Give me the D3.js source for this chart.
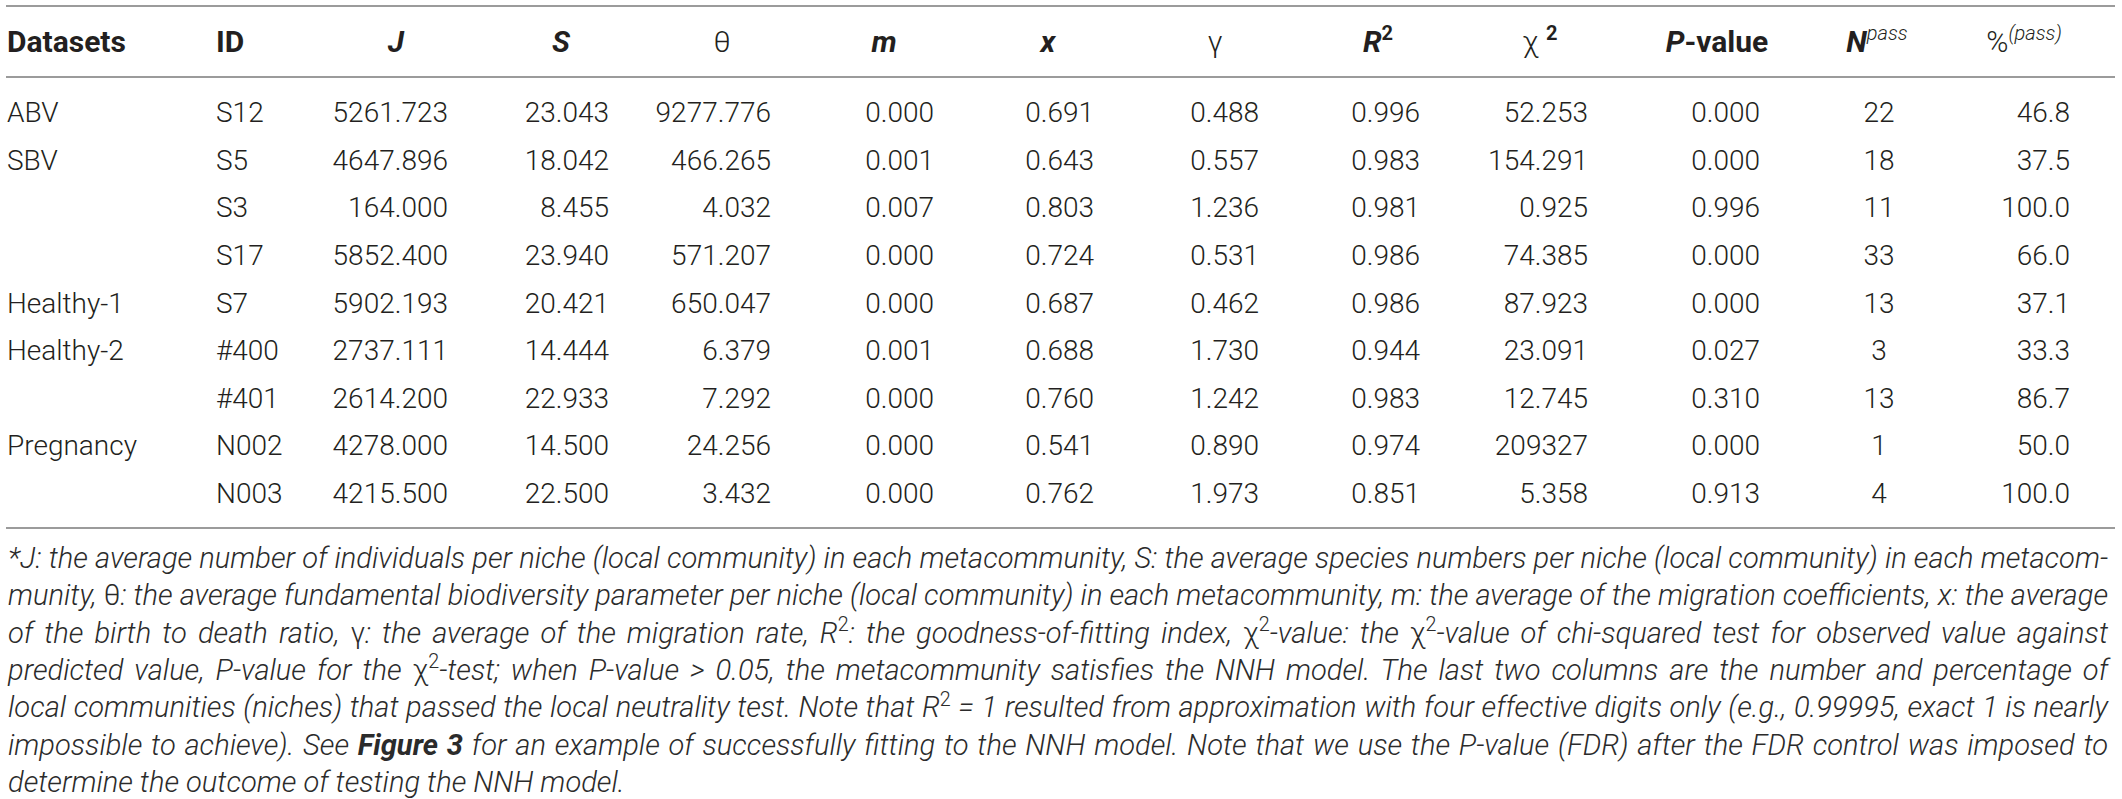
<!DOCTYPE html>
<html>
<head>
<meta charset="utf-8">
<script src="https://cdn.jsdelivr.net/npm/d3@7"></script>
<style>
  html, body { margin: 0; padding: 0; background: #fff; }
  svg text { font-family: Roboto, "Liberation Sans", Arial, sans-serif; fill: #231f20; }
</style>
</head>
<body>
<div id="table"></div>
<script>
// DATA
const datasets = ['ABV', 'SBV', '', '', 'Healthy-1', 'Healthy-2', '', 'Pregnancy', ''];
const ids = ['S12', 'S5', 'S3', 'S17', 'S7', '#400', '#401', 'N002', 'N003'];
const jValues = ['5261.723', '4647.896', '164.000', '5852.400', '5902.193', '2737.111', '2614.200', '4278.000', '4215.500'];
const sValues = ['23.043', '18.042', '8.455', '23.940', '20.421', '14.444', '22.933', '14.500', '22.500'];
const thetaValues = ['9277.776', '466.265', '4.032', '571.207', '650.047', '6.379', '7.292', '24.256', '3.432'];
const mValues = ['0.000', '0.001', '0.007', '0.000', '0.000', '0.001', '0.000', '0.000', '0.000'];
const xValues = ['0.691', '0.643', '0.803', '0.724', '0.687', '0.688', '0.760', '0.541', '0.762'];
const gammaValues = ['0.488', '0.557', '1.236', '0.531', '0.462', '1.730', '1.242', '0.890', '1.973'];
const r2Values = ['0.996', '0.983', '0.981', '0.986', '0.986', '0.944', '0.983', '0.974', '0.851'];
const chi2Values = ['52.253', '154.291', '0.925', '74.385', '87.923', '23.091', '12.745', '209327', '5.358'];
const pValues = ['0.000', '0.000', '0.996', '0.000', '0.000', '0.027', '0.310', '0.000', '0.913'];
const nPass = ['22', '18', '11', '33', '13', '3', '13', '1', '4'];
const pctPass = ['46.8', '37.5', '100.0', '66.0', '37.1', '33.3', '86.7', '50.0', '100.0'];

// footnote, one entry per printed line ([g:] upright greek, [s:] superscript, [b:] bold)
const footLines = [
  '*J: the average number of individuals per niche (local community) in each metacommunity, S: the average species numbers per niche (local community) in each metacom-',
  'munity, [g:θ]: the average fundamental biodiversity parameter per niche (local community) in each metacommunity, m: the average of the migration coefficients, x: the average',
  'of the birth to death ratio, [g:γ]: the average of the migration rate, R[s:2]: the goodness-of-fitting index, [g:χ][s:2]-value: the [g:χ][s:2]-value of chi-squared test for observed value against',
  'predicted value, P-value for the [g:χ][s:2]-test; when P-value > 0.05, the metacommunity satisfies the NNH model. The last two columns are the number and percentage of',
  'local communities (niches) that passed the local neutrality test. Note that R[s:2] = 1 resulted from approximation with four effective digits only (e.g., 0.99995, exact 1 is nearly',
  'impossible to achieve). See [b:Figure 3] for an example of successfully fitting to the NNH model. Note that we use the P-value (FDR) after the FDR control was imposed to',
  'determine the outcome of testing the NNH model.'
];

// COLUMNS (layout only)
const columns = [
  {head: [{t: 'Datasets'}], hx: 7, hAnchor: 'start', vals: datasets, x: 7, anchor: 'start'},
  {head: [{t: 'ID'}], hx: 216, hAnchor: 'start', vals: ids, x: 216, anchor: 'start'},
  {head: [{t: 'J', i: true}], hx: 396, vals: jValues, x: 448, anchor: 'end'},
  {head: [{t: 'S', i: true}], hx: 561, vals: sValues, x: 609, anchor: 'end'},
  {head: [{t: 'θ', w: 300}], hx: 722, vals: thetaValues, x: 771, anchor: 'end'},
  {head: [{t: 'm', i: true}], hx: 884, vals: mValues, x: 934, anchor: 'end'},
  {head: [{t: 'x', i: true}], hx: 1048, vals: xValues, x: 1094, anchor: 'end'},
  {head: [{t: 'γ', w: 300}], hx: 1215, vals: gammaValues, x: 1259, anchor: 'end'},
  {head: [{t: 'R', i: true}, {t: '2', sup: true}], hx: 1378, vals: r2Values, x: 1420, anchor: 'end'},
  {head: [{t: 'χ ', w: 300}, {t: '2', sup: true}], hx: 1540, vals: chi2Values, x: 1588, anchor: 'end'},
  {head: [{t: 'P', i: true}, {t: '-value'}], hx: 1717, vals: pValues, x: 1760, anchor: 'end'},
  {head: [{t: 'N', i: true}, {t: 'pass', sup: true, i: true, w: 300}], hx: 1877, vals: nPass, x: 1879, anchor: 'middle'},
  {head: [{t: '%', w: 300}, {t: '(pass)', sup: true, i: true, w: 300}], hx: 2024, vals: pctPass, x: 2070, anchor: 'end'}
];

const W = 2122, H = 799;
const ruleX0 = 6, ruleX1 = 2115;
const fontSize = 28, headSize = 30;

const svg = d3.select('#table').append('svg')
  .attr('width', W).attr('height', H);

// row positions (baselines)
const rowIdx = d3.range(ids.length);
const y = d3.scalePoint().domain(rowIdx).range([122, 503]);

// rules
const rules = [6, 77, 528];
svg.append('g').selectAll('line')
  .data(rules)
  .enter().append('line')
  .attr('x1', ruleX0).attr('x2', ruleX1)
  .attr('y1', d => d).attr('y2', d => d)
  .attr('stroke', '#9b9b9b').attr('stroke-width', 2);

// header
const headY = 52;
const headG = svg.append('g').attr('class', 'head');
columns.forEach(function(col) {
  const t = headG.append('text')
    .attr('x', col.hx).attr('y', headY)
    .attr('text-anchor', col.hAnchor || 'middle')
    .attr('font-size', headSize)
    .attr('font-weight', 700);
  let up = false;
  col.head.forEach(function(p) {
    const ts = t.append('tspan').text(p.t)
      .attr('font-style', p.i ? 'italic' : 'normal')
      .attr('font-weight', p.w || 700);
    if (p.sup) { ts.attr('dy', -12).attr('font-size', 20); up = true; }
    else if (up) { ts.attr('dy', 12); up = false; }
  });
});

// body cells
const bodyG = svg.append('g').attr('class', 'body');
columns.forEach(function(col) {
  bodyG.append('g').selectAll('text')
    .data(col.vals)
    .enter().append('text')
    .attr('x', col.x)
    .attr('y', (d, i) => y(i))
    .attr('text-anchor', col.anchor)
    .attr('font-size', fontSize)
    .attr('font-weight', 300)
    .text(d => d);
});

// footnote
const footY = d3.scalePoint().domain(d3.range(footLines.length)).range([568, 792]);
const footG = svg.append('g').attr('class', 'foot');
const footX0 = 8, footX1 = 2108;

function addSegments(textSel, line, size) {
  const re = /\[(\w):([^\]]*)\]/g;
  let last = 0, m, up = false;
  function add(str, kind) {
    if (!str) return;
    const ts = textSel.append('tspan').text(str);
    if (kind === 'g') ts.attr('font-style', 'normal');
    if (kind === 'b') ts.attr('font-weight', 700);
    if (kind === 's') { ts.attr('font-size', size * 0.68).attr('dy', -size * 0.4).attr('font-style', 'normal'); up = true; }
    else if (up) { ts.attr('dy', size * 0.4); up = false; }
  }
  while ((m = re.exec(line)) !== null) {
    add(line.slice(last, m.index), null);
    add(m[2], m[1]);
    last = re.lastIndex;
  }
  add(line.slice(last), null);
}

function drawFoot(size) {
  footG.selectAll('*').remove();
  return footLines.map(function(line, i) {
    const t = footG.append('text')
      .attr('x', footX0).attr('y', footY(i))
      .attr('font-size', size)
      .attr('font-style', 'italic')
      .attr('font-weight', 300)
      .style('fill', '#2b2b2b')
      .attr('xml:space', 'preserve');
    addSegments(t, line, size);
    return t;
  });
}

// fit font so the longest line just fills the width
let footSize = 25;
let texts = drawFoot(footSize);
const widest = d3.max(texts.slice(0, -1), t => t.node().getComputedTextLength());
footSize = footSize * (footX1 - footX0) / widest;
texts = drawFoot(footSize);

// justify every line except the last one
texts.forEach(function(t, i) {
  if (i === texts.length - 1) return;
  const natural = t.node().getComputedTextLength();
  const plain = footLines[i].replace(/\[(\w):([^\]]*)\]/g, '$2');
  const spaces = (plain.match(/ /g) || []).length;
  if (spaces > 0) t.style('word-spacing', ((footX1 - footX0 - natural) / spaces) + 'px');
});
</script>
</body>
</html>
